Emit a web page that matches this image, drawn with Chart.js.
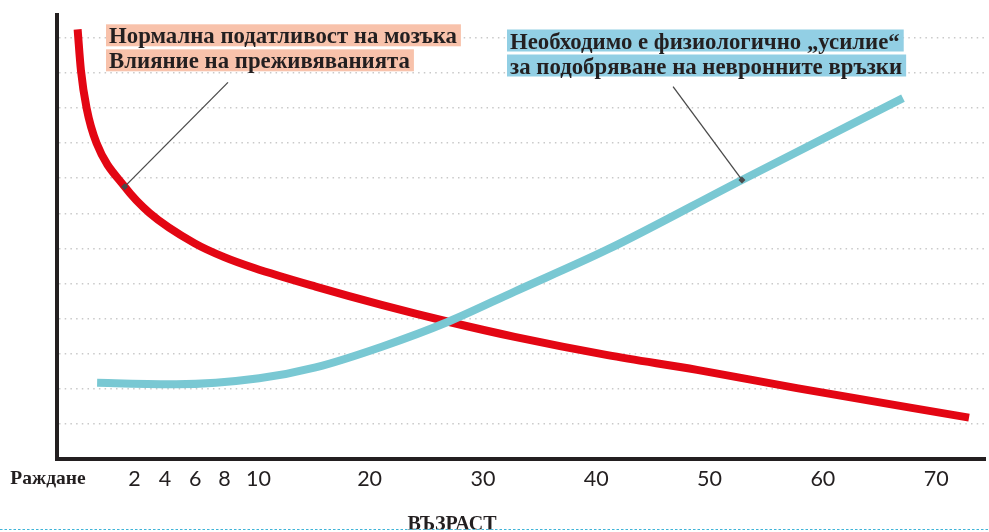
<!DOCTYPE html>
<html>
<head>
<meta charset="utf-8">
<script src="https://cdn.jsdelivr.net/npm/chart.js@4.4.0/dist/chart.umd.min.js"></script>
<style>
  html, body { margin: 0; padding: 0; background: #fff; }
  #wrap { position: relative; width: 989px; height: 532px; }
</style>
</head>
<body>
<div id="wrap"><canvas id="chart_plasticity"></canvas></div>
<script>
// age axis is squeezed before 10, so tick positions are given separately
var tickPos = [-0.75, 1.95, 4.6, 7.2, 10.2, 20, 30, 40, 50, 60, 70];
var tickText = ['2', '4', '6', '8', '10', '20', '30', '40', '50', '60', '70'];
var gridLevels = [1, 2, 3, 4, 5, 6, 7, 8, 9, 10, 11, 12];

// brain plasticity (red)
var redAge = [-5.77, -5.48, -4.98, -4.10, -1.62, 0.58, 4.53, 7.17, 9.81, 15.23, 21.05, 26.94, 32.80, 41.0, 48.9, 57.7, 72.9];
var redLevel = [12.24, 11.08, 10.0, 9.0, 7.76, 7.01, 6.15, 5.75, 5.44, 4.91, 4.39, 3.91, 3.48, 2.96, 2.54, 2.02, 1.18];

// effort needed (cyan)
var cyanAge = [-4.05, 2.93, 10.25, 15.23, 21.08, 26.94, 32.80, 41.0, 52.86, 67.07];
var cyanLevel = [2.17, 2.13, 2.30, 2.61, 3.20, 3.91, 4.77, 5.97, 7.95, 10.28];

// leader lines from the notes to the curves
var redNoteAge = [7.5, -1.62];
var redNoteLevel = [10.73, 7.76];
var cyanNoteAge = [46.78, 52.86];
var cyanNoteLevel = [10.61, 7.95];

var redLabel = ['Нормална податливост на мозъка', 'Влияние на преживяванията'];
var cyanLabel = ['Необходимо е физиологично „усилие“', 'за подобряване на невронните връзки'];
var birthLabel = 'Раждане';
var axisTitle = 'ВЪЗРАСТ';

function pts(xs, ys) {
  return xs.map(function (x, i) { return { x: x, y: ys[i] }; });
}

function drawNote(ctx, lines, x, y, bg) {
  ctx.font = 'bold 22.8px "Liberation Serif"';
  ctx.textAlign = 'left';
  ctx.textBaseline = 'alphabetic';
  lines.forEach(function (t, i) {
    var base = y + i * 25;
    var w = ctx.measureText(t).width;
    ctx.fillStyle = bg;
    ctx.fillRect(x - 3, base - 19, w + 7, 22);
    ctx.fillStyle = '#231f20';
    ctx.fillText(t, x, base);
  });
}

var chart_plasticity = new Chart(document.getElementById('chart_plasticity'), {
  type: 'line',
  data: {
    datasets: [
      {
        label: 'note red',
        data: pts(redNoteAge, redNoteLevel),
        borderColor: '#4a4a4a',
        borderWidth: 1.3,
        pointStyle: 'rectRot',
        pointRadius: [0, 3.5],
        pointBackgroundColor: '#4a4a4a',
        pointBorderWidth: 0
      },
      {
        label: 'note cyan',
        data: pts(cyanNoteAge, cyanNoteLevel),
        borderColor: '#4a4a4a',
        borderWidth: 1.3,
        pointStyle: 'rectRot',
        pointRadius: [0, 3.5],
        pointBackgroundColor: '#4a4a4a',
        pointBorderWidth: 0
      },
      {
        label: 'cyan',
        data: pts(cyanAge, cyanLevel),
        borderColor: '#79c8d3',
        borderWidth: 8,
        cubicInterpolationMode: 'monotone',
        pointRadius: 0
      },
      {
        label: 'red',
        data: pts(redAge, redLevel),
        borderColor: '#e30613',
        borderWidth: 8,
        cubicInterpolationMode: 'monotone',
        pointRadius: 0
      }
    ]
  },
  options: {
    animation: false,
    responsive: true,
    maintainAspectRatio: false,
    layout: { padding: { top: 15, right: 0, left: 0, bottom: 0 } },
    plugins: {
      legend: { display: false },
      tooltip: { enabled: false }
    },
    scales: {
      x: {
        type: 'linear',
        min: -7.59,
        max: 74.31,
        afterBuildTicks: function (scale) {
          scale.ticks = tickPos.map(function (v) { return { value: v }; });
        },
        afterFit: function (scale) { scale.height = 73; },
        grid: { display: false, drawTicks: false },
        border: { display: true, width: 4, color: '#231f20' },
        ticks: {
          autoSkip: false,
          maxRotation: 0,
          padding: 7,
          color: '#231f20',
          font: { family: 'Lato', size: 21.5 },
          callback: function (value, index) { return tickText[index]; }
        }
      },
      y: {
        type: 'linear',
        min: 0,
        max: 12.65,
        afterBuildTicks: function (scale) {
          scale.ticks = gridLevels.map(function (v) { return { value: v }; });
        },
        afterFit: function (scale) { scale.width = 57; },
        grid: { color: '#c9c9c9', lineWidth: 1.5, drawTicks: false },
        border: { display: true, width: 4, color: '#231f20', dash: [1.5, 4.2] },
        ticks: { display: false }
      }
    }
  },
  plugins: [{
    id: 'notes',
    beforeDraw: function (chart) {
      var ctx = chart.ctx;
      ctx.save();
      ctx.fillStyle = 'white';
      ctx.fillRect(0, 0, chart.width, chart.height);
      ctx.restore();
    },
    afterDraw: function (chart) {
      var ctx = chart.ctx;
      var area = chart.chartArea;
      var xs = chart.scales.x;
      ctx.save();
      drawNote(ctx, redLabel, 109, 43.3, '#f8c2ab');
      drawNote(ctx, cyanLabel, 510, 48.5, '#92cfe4');

      ctx.fillStyle = '#231f20';
      ctx.textAlign = 'center';
      ctx.font = 'bold 19.5px "Liberation Serif"';
      ctx.fillText(birthLabel, xs.left - 9, area.bottom + 25);
      ctx.font = 'bold 20px "Liberation Serif"';
      ctx.fillText(axisTitle, 452, chart.height - 2);

      // dotted rule at the bottom
      ctx.fillStyle = 'white';
      ctx.fillRect(0, chart.height - 2.5, chart.width, 2.5);
      ctx.strokeStyle = '#3fb4d8';
      ctx.lineWidth = 1.2;
      ctx.setLineDash([2.5, 2]);
      ctx.beginPath();
      ctx.moveTo(0, chart.height - 2.5);
      ctx.lineTo(chart.width, chart.height - 2.5);
      ctx.stroke();
      ctx.restore();
    }
  }]
});
</script>
</body>
</html>
